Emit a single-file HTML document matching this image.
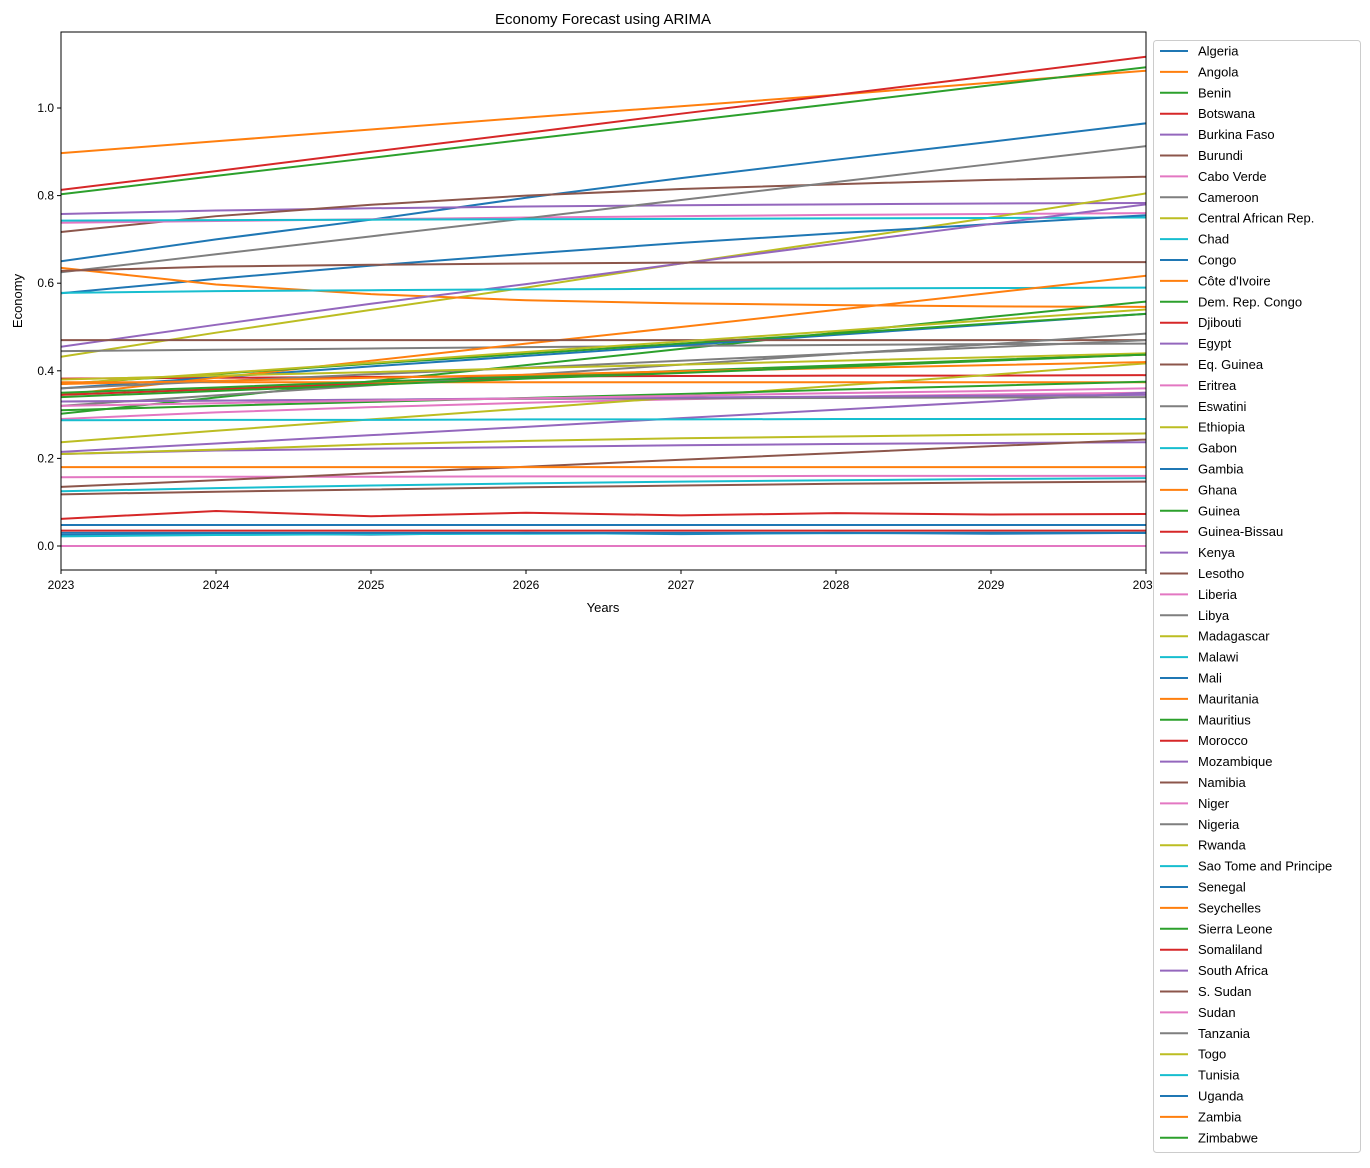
<!DOCTYPE html>
<html><head><meta charset="utf-8"><style>
body{margin:0;background:#fff}
svg{font-family:"Liberation Sans","DejaVu Sans",sans-serif}
</style></head><body>
<svg id="chart" width="1370" height="1163" xmlns="http://www.w3.org/2000/svg">
<rect width="1370" height="1163" fill="#fff"/>
<text x="603" y="24" text-anchor="middle" font-size="15">Economy Forecast using ARIMA</text>
<g id="plot"></g>
<text x="603" y="612" text-anchor="middle" font-size="13">Years</text>
<text x="22" y="301" text-anchor="middle" font-size="13" transform="rotate(-90 22 301)">Economy</text>
<g id="legend"></g>
</svg>
<script>
const years=[2023,2024,2025,2026,2027,2028,2029,2030];
const yTicks=[0.0,0.2,0.4,0.6,0.8,1.0];
const countries=["Algeria","Angola","Benin","Botswana","Burkina Faso","Burundi","Cabo Verde","Cameroon","Central African Rep.","Chad","Congo","Côte d'Ivoire","Dem. Rep. Congo","Djibouti","Egypt","Eq. Guinea","Eritrea","Eswatini","Ethiopia","Gabon","Gambia","Ghana","Guinea","Guinea-Bissau","Kenya","Lesotho","Liberia","Libya","Madagascar","Malawi","Mali","Mauritania","Mauritius","Morocco","Mozambique","Namibia","Niger","Nigeria","Rwanda","Sao Tome and Principe","Senegal","Seychelles","Sierra Leone","Somaliland","South Africa","S. Sudan","Sudan","Tanzania","Togo","Tunisia","Uganda","Zambia","Zimbabwe"];
const values=[
[0.65,0.70,0.745,0.795,0.84,0.882,0.923,0.965],
[0.897,0.924,0.951,0.978,1.004,1.03,1.058,1.085],
[0.803,0.845,0.886,0.928,0.969,1.01,1.052,1.093],
[0.813,0.856,0.90,0.943,0.987,1.03,1.073,1.117],
[0.758,0.766,0.771,0.775,0.778,0.78,0.782,0.783],
[0.717,0.753,0.779,0.80,0.815,0.826,0.836,0.843],
[0.738,0.742,0.746,0.750,0.753,0.756,0.758,0.76],
[0.625,0.666,0.707,0.748,0.79,0.831,0.872,0.913],
[0.432,0.487,0.539,0.59,0.645,0.697,0.75,0.805],
[0.743,0.744,0.745,0.746,0.747,0.748,0.749,0.75],
[0.577,0.61,0.64,0.667,0.692,0.714,0.735,0.755],
[0.635,0.597,0.575,0.561,0.554,0.55,0.547,0.546],
[0.302,0.339,0.376,0.413,0.45,0.487,0.523,0.558],
[0.382,0.384,0.386,0.387,0.388,0.389,0.389,0.39],
[0.455,0.505,0.553,0.598,0.645,0.69,0.735,0.78],
[0.628,0.638,0.642,0.645,0.647,0.648,0.648,0.648],
[0.29,0.305,0.317,0.327,0.335,0.341,0.346,0.35],
[0.445,0.448,0.451,0.454,0.457,0.459,0.461,0.462],
[0.237,0.263,0.289,0.314,0.34,0.366,0.391,0.417],
[0.578,0.582,0.584,0.586,0.587,0.588,0.589,0.59],
[0.36,0.385,0.41,0.434,0.458,0.482,0.506,0.53],
[0.345,0.384,0.423,0.462,0.5,0.539,0.578,0.617],
[0.37,0.393,0.416,0.439,0.462,0.485,0.508,0.53],
[0.345,0.358,0.371,0.384,0.398,0.411,0.424,0.437],
[0.215,0.234,0.253,0.272,0.292,0.311,0.33,0.35],
[0.47,0.47,0.47,0.47,0.47,0.47,0.47,0.47],
[0.157,0.158,0.158,0.159,0.159,0.16,0.16,0.16],
[0.32,0.344,0.367,0.391,0.414,0.438,0.461,0.485],
[0.37,0.394,0.418,0.443,0.467,0.491,0.516,0.54],
[0.287,0.288,0.288,0.289,0.289,0.29,0.29,0.29],
[0.048,0.048,0.048,0.048,0.048,0.048,0.048,0.048],
[0.374,0.374,0.374,0.374,0.374,0.374,0.374,0.374],
[0.31,0.32,0.329,0.338,0.347,0.357,0.366,0.375],
[0.062,0.08,0.068,0.076,0.07,0.075,0.072,0.073],
[0.21,0.218,0.222,0.226,0.23,0.233,0.235,0.237],
[0.135,0.15,0.166,0.181,0.197,0.212,0.228,0.243],
[0.0,0.0,0.0,0.0,0.0,0.0,0.0,0.0],
[0.33,0.332,0.334,0.336,0.337,0.338,0.339,0.34],
[0.21,0.22,0.232,0.24,0.246,0.25,0.254,0.257],
[0.125,0.132,0.138,0.143,0.147,0.15,0.153,0.155],
[0.025,0.028,0.026,0.03,0.027,0.03,0.028,0.03],
[0.18,0.18,0.18,0.18,0.18,0.18,0.18,0.18],
[0.35,0.362,0.375,0.387,0.4,0.412,0.425,0.437],
[0.035,0.035,0.035,0.035,0.035,0.035,0.035,0.035],
[0.33,0.332,0.334,0.337,0.339,0.341,0.343,0.345],
[0.118,0.124,0.129,0.134,0.138,0.142,0.145,0.147],
[0.32,0.326,0.332,0.337,0.343,0.349,0.354,0.36],
[0.36,0.376,0.392,0.407,0.423,0.439,0.454,0.47],
[0.38,0.389,0.397,0.406,0.414,0.423,0.431,0.44],
[0.022,0.025,0.027,0.028,0.029,0.029,0.03,0.03],
[0.03,0.03,0.03,0.03,0.03,0.03,0.03,0.03],
[0.37,0.377,0.384,0.391,0.399,0.406,0.413,0.42],
[0.34,0.354,0.368,0.382,0.395,0.409,0.423,0.437]
];
const palette=["#1f77b4","#ff7f0e","#2ca02c","#d62728","#9467bd","#8c564b","#e377c2","#7f7f7f","#bcbd22","#17becf"];
const NS="http://www.w3.org/2000/svg";
const X0=61,X1=1146,Y0=32,Y1=570;
function xs(v){return X0+(v-2023)/(2030-2023)*(X1-X0);}
function ys(v){return 546-v*438;}
const plot=document.getElementById('plot');
function mk(tag,attrs,parent){const e=document.createElementNS(NS,tag);for(const k in attrs)e.setAttribute(k,attrs[k]);parent.appendChild(e);return e;}
const clip=mk('clipPath',{id:'pc'},plot);mk('rect',{x:X0,y:Y0,width:X1-X0,height:Y1-Y0},clip);
const lines=mk('g',{'clip-path':'url(#pc)'},plot);
values.forEach((s,i)=>{
  const p=mk('polyline',{points:s.map((v,j)=>xs(years[j])+','+ys(v)).join(' '),fill:'none',stroke:palette[i%10],'stroke-width':2},lines);
  
  
});
const frame=mk('rect',{x:X0,y:Y0,width:X1-X0,height:Y1-Y0,fill:'none',stroke:'#000','stroke-width':1},plot);


years.forEach(yr=>{
  const x=xs(yr);
  mk('line',{x1:x,x2:x,y1:Y1,y2:Y1+4,stroke:'#000'},plot);
  const t=mk('text',{x:x,y:Y1+19,'text-anchor':'middle','font-size':12},plot);t.textContent=yr;
  
  
});
yTicks.forEach(v=>{
  const y=ys(v);
  mk('line',{x1:X0-4,x2:X0,y1:y,y2:y,stroke:'#000'},plot);
  const t=mk('text',{x:X0-7,y:y+4,'text-anchor':'end','font-size':12},plot);t.textContent=v.toFixed(1);
  
  
});
const leg=document.getElementById('legend');


mk('rect',{x:1153.5,y:40.5,width:207,height:1112,rx:3,fill:'#fff',stroke:'#ccc'},leg);
countries.forEach((c,i)=>{
  const y=51+i*20.9;
  const g=mk('g',{},leg);
  
  
  mk('line',{x1:1160,x2:1188,y1:y,y2:y,stroke:palette[i%10],'stroke-width':2},g);
  const t=mk('text',{x:1198,y:y+4.5,'font-size':13},g);t.textContent=c;
});
</script>
</body></html>
